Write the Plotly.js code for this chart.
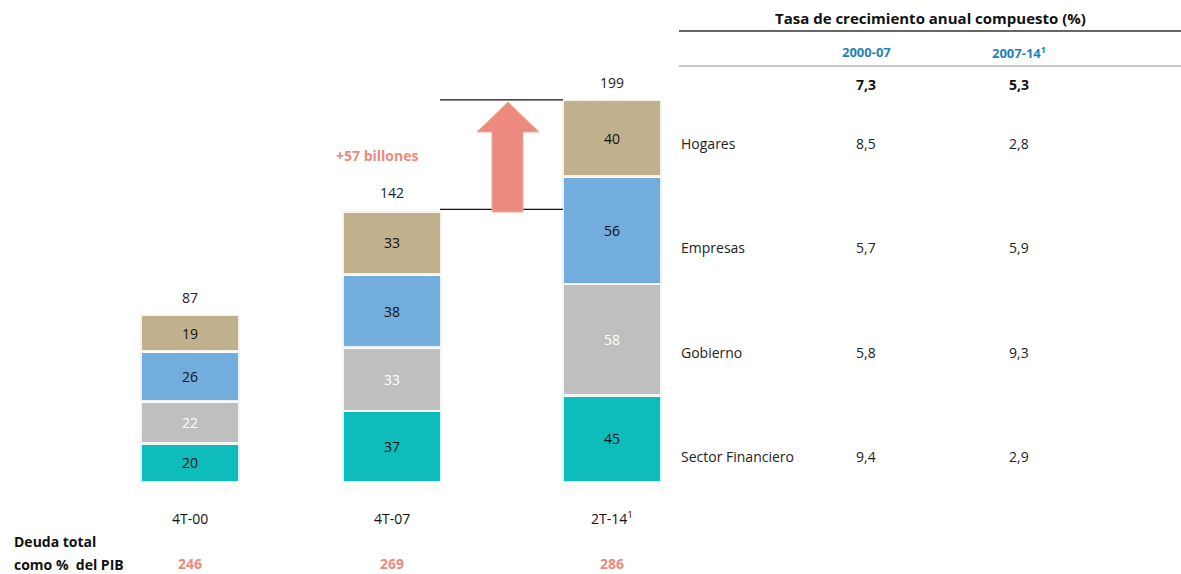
<!DOCTYPE html>
<html>
<head>
<meta charset="utf-8">
<script src="https://cdn.plot.ly/plotly-3.0.1.min.js"></script>
<style>html,body{margin:0;padding:0;background:#fff;}#chart{width:1181px;height:574px;}</style>
</head>
<body>
<div id="chart"></div>
<script>
// ---- data ----
var categories = ["4T-00", "4T-07", "2T-14<sup>1</sup>"];
var sectorFinanciero = [20, 37, 45];
var gobierno = [22, 33, 58];
var empresas = [26, 38, 56];
var hogares = [19, 33, 40];
var totals = [87, 142, 199];
var deudaPIB = [246, 269, 286];
var increase = "+57 billones";

var tableTitle = "Tasa de crecimiento anual compuesto (%)";
var periods = ["2000-07", "2007-14<sup>1</sup>"];
var totalGrowth = ["7,3", "5,3"];
var rowNames = ["Hogares", "Empresas", "Gobierno", "Sector Financiero"];
var growth2000_07 = ["8,5", "5,7", "5,8", "9,4"];
var growth2007_14 = ["2,8", "5,9", "9,3", "2,9"];

// ---- layout helpers (pixel -> paper) ----
var W = 1181, H = 574;
function px(x) { return x / W; }
function py(y) { return 1 - y / H; }

var FONT = "Open Sans, DejaVu Sans, sans-serif";
var PINK = "#ec8a7e";
var BLUE = "#1f82b6";

// x: category axis; category 0 at px 190, 211 px per category
var xScale = 211, x0 = 190;
var xRange = [-x0 / xScale, (W - x0) / xScale];
// y: 0 at px 482, 1.92 px per unit
var yScale = 1.92, y0 = 482;
var yRange = [-(H - y0) / yScale, y0 / yScale];
var xIdx = categories.map(function (c, i) { return i; });
// small per-bar horizontal nudge (px) for the uneven spacing of the original
var shiftPx = [0, -9, 0];
var barW = 0.47;
var offsets = shiftPx.map(function (s) { return -barW / 2 + s / xScale; });

function seg(name, vals, color, txtColor) {
  return {
    type: "bar", name: name, x: xIdx, y: vals,
    text: vals.map(String), textposition: "inside", insidetextanchor: "middle",
    textangle: 0, constraintext: "none",
    textfont: { family: FONT, size: 14, color: txtColor },
    marker: { color: color, line: { color: "rgba(255,255,255,0.85)", width: 2.5 } },
    width: barW, offset: offsets, hoverinfo: "skip", cliponaxis: false
  };
}

var data = [
  seg("Sector Financiero", sectorFinanciero, "#0dbcbb", "#111"),
  seg("Gobierno", gobierno, "#bfbfbf", "#ffffff"),
  seg("Empresas", empresas, "#72addd", "#111"),
  seg("Hogares", hogares, "#c0b08b", "#111")
];

function ann(o) {
  o.showarrow = false;
  if (!o.xanchor) o.xanchor = "center";
  o.yanchor = "middle";
  return o;
}

var annotations = [];
// totals above bars
totals.forEach(function (t, i) {
  annotations.push(ann({ x: i, y: t, xref: "x", yref: "y", text: String(t), xshift: shiftPx[i],
    yshift: 17, font: { family: FONT, size: 14, color: "#222" } }));
});
// category labels
categories.forEach(function (c, i) {
  annotations.push(ann({ x: i, y: py(518), xref: "x", yref: "paper", text: c, xshift: shiftPx[i],
    font: { family: FONT, size: 14, color: "#111" } }));
});
// deuda PIB values
deudaPIB.forEach(function (v, i) {
  annotations.push(ann({ x: i, y: py(563), xref: "x", yref: "paper", text: "<b>" + v + "</b>", xshift: shiftPx[i],
    font: { family: FONT, size: 14, color: PINK } }));
});
annotations.push(ann({ x: px(12), y: py(541), xref: "paper", yref: "paper", xanchor: "left", text: "<b>Deuda total</b>",
  font: { family: FONT, size: 14, color: "#111" } }));
annotations.push(ann({ x: px(12), y: py(564), xref: "paper", yref: "paper", xanchor: "left", text: "<b>como %  del PIB</b>",
  font: { family: FONT, size: 14, color: "#111" } }));
annotations.push(ann({ x: px(377), y: py(155), xref: "paper", yref: "paper", text: "<b>" + increase + "</b>",
  font: { family: FONT, size: 14, color: PINK } }));

// table
annotations.push(ann({ x: px(930), y: py(18), xref: "paper", yref: "paper", text: "<b>" + tableTitle + "</b>",
  font: { family: FONT, size: 15, color: "#111" } }));
var colX = [866, 1019];
periods.forEach(function (p, j) {
  annotations.push(ann({ x: px(colX[j]), y: py(52), xref: "paper", yref: "paper", text: "<b>" + p + "</b>",
    font: { family: FONT, size: 13, color: BLUE } }));
  annotations.push(ann({ x: px(colX[j]), y: py(84), xref: "paper", yref: "paper", text: "<b>" + totalGrowth[j] + "</b>",
    font: { family: FONT, size: 14, color: "#111" } }));
});
var rowY = [143, 247, 352, 456];
rowNames.forEach(function (r, k) {
  annotations.push(ann({ x: px(679), y: py(rowY[k]), xref: "paper", yref: "paper", xanchor: "left", text: r,
    font: { family: FONT, size: 14, color: "#222" } }));
  annotations.push(ann({ x: px(colX[0]), y: py(rowY[k]), xref: "paper", yref: "paper", text: growth2000_07[k],
    font: { family: FONT, size: 14, color: "#222" } }));
  annotations.push(ann({ x: px(colX[1]), y: py(rowY[k]), xref: "paper", yref: "paper", text: growth2007_14[k],
    font: { family: FONT, size: 14, color: "#222" } }));
});

var shapes = [
  // table rules
  { type: "line", xref: "paper", yref: "paper", x0: px(679), x1: 1, y0: py(31), y1: py(31), line: { color: "#333", width: 1.5 } },
  { type: "line", xref: "paper", yref: "paper", x0: px(679), x1: 1, y0: py(66), y1: py(66), line: { color: "#c8c8c8", width: 2 } },
  // reference lines at totals of bar 2 and bar 3
  { type: "line", xref: "x", yref: "y", x0: (440 - x0) / xScale, x1: (563 - x0) / xScale, y0: totals[1], y1: totals[1], line: { color: "#111", width: 1.2 } },
  { type: "line", xref: "x", yref: "y", x0: (440 - x0) / xScale, x1: (563 - x0) / xScale, y0: totals[2], y1: totals[2], line: { color: "#111", width: 1.2 } },
  // arrow
  { type: "path", xref: "paper", yref: "paper",
    path: "M " + px(492) + " " + py(212) + " L " + px(492) + " " + py(132) + " L " + px(477) + " " + py(132) +
          " L " + px(508) + " " + py(102) + " L " + px(539) + " " + py(132) + " L " + px(523) + " " + py(132) +
          " L " + px(523) + " " + py(212) + " Z",
    fillcolor: "#ec8a7e", line: { color: "#f2aaa1", width: 1 } }
];

var layout = {
  width: W, height: H,
  margin: { l: 0, r: 0, t: 0, b: 0 },
  paper_bgcolor: "#fff", plot_bgcolor: "rgba(0,0,0,0)",
  barmode: "stack", showlegend: false,
  xaxis: { range: xRange, visible: false, fixedrange: true },
  yaxis: { range: yRange, visible: false, fixedrange: true },
  annotations: annotations, shapes: shapes,
  font: { family: FONT }
};

Plotly.newPlot("chart", data, layout, { displayModeBar: false, staticPlot: true });
</script>
</body>
</html>
